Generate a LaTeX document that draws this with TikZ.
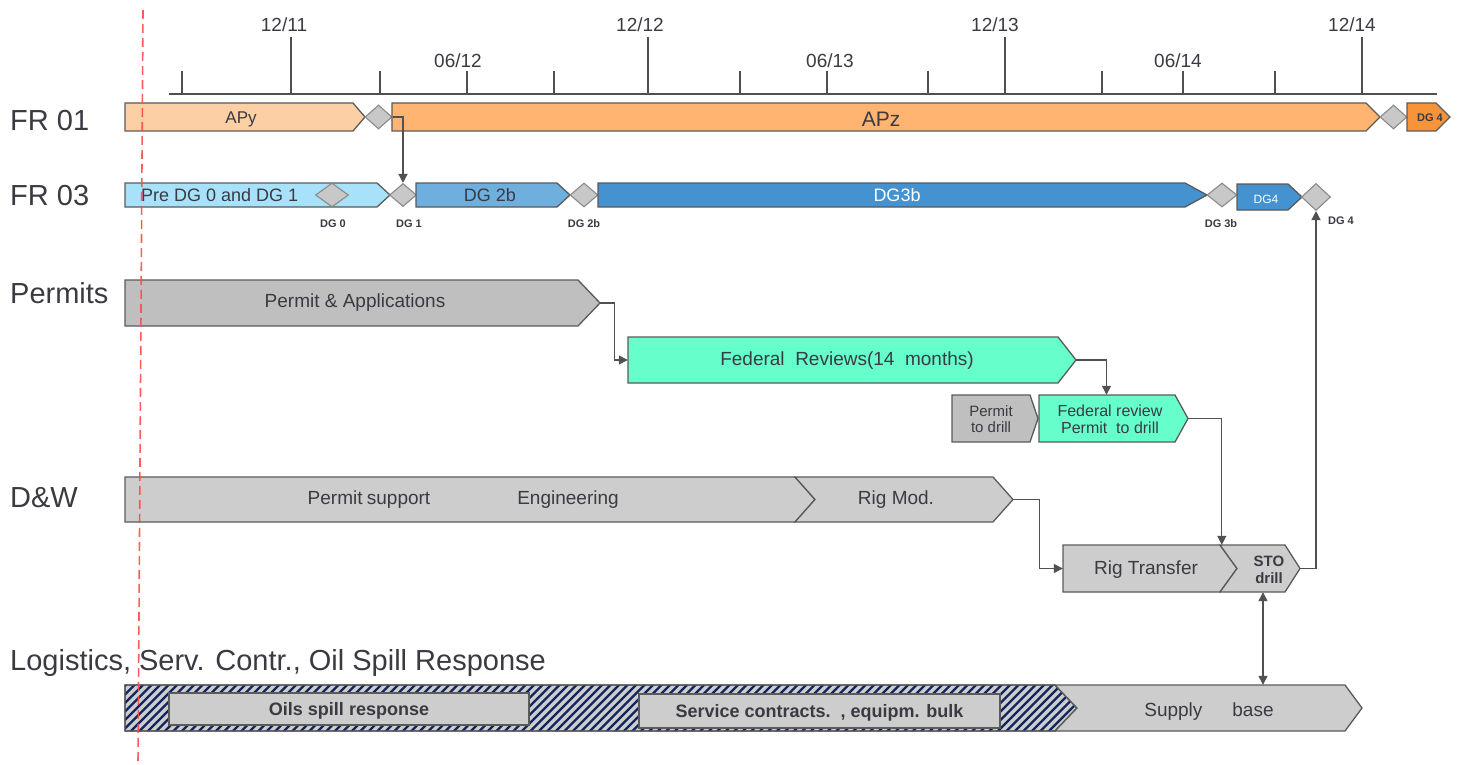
\documentclass[tikz,border=0pt]{standalone}
\usepackage{fontspec}
\setmainfont{Liberation Sans}
\usetikzlibrary{arrows.meta,shapes.geometric,fit}

\definecolor{ink}{HTML}{3A3A42}
\definecolor{edge}{HTML}{5A5A5A}
\definecolor{msfill}{HTML}{C8C8C8}
\definecolor{msedge}{HTML}{8A8A8A}
\definecolor{peach}{HTML}{FCCFA4}
\definecolor{apricot}{HTML}{FFB472}
\definecolor{orangedg}{HTML}{F7943A}
\definecolor{skyblue}{HTML}{A8E2FA}
\definecolor{midblue}{HTML}{6FAFDE}
\definecolor{deepblue}{HTML}{4592D0}
\definecolor{greyA}{HTML}{BFBFBF}
\definecolor{greyB}{HTML}{CDCDCD}
\definecolor{mint}{HTML}{66FFCC}
\definecolor{navyhatch}{HTML}{13255E}
\definecolor{todayred}{HTML}{FF4A4A}

% task bar: name, style, left x, body end x, tip x, top y, bottom y, notch depth
\newcommand\taskbox[8]{%
  \pgfmathsetmacro\tbmid{(#6+#7)/2}%
  \pgfmathsetmacro\tbnotch{#3+#8}%
  \path[box,#2] (#3,#6) -- (#4,#6) -- (#5,\tbmid) -- (#4,#7) -- (#3,#7) -- (\tbnotch,\tbmid) -- cycle;
  \node[fit={(#3,#6) (#5,#7)}, inner sep=0pt] (#1) {};
}

\begin{document}
\begin{tikzpicture}[x=1pt,y=-1pt,
  box/.style={draw=edge, line width=1.3pt, line join=miter},
  ms/.style={diamond, draw=msedge, fill=msfill, line width=1.1pt, inner sep=0pt},
  txt/.style={text=ink, inner sep=0pt, yshift=-2pt, font=\fontsize{19}{22}\selectfont},
  small/.style={text=ink, inner sep=0pt, yshift=-1pt, font=\fontsize{15}{17}\selectfont, align=center},
  tiny/.style={text=ink, inner sep=0pt, font=\bfseries\fontsize{11}{13}\selectfont},
  rowlab/.style={text=ink, inner sep=0pt, anchor=west, font=\fontsize{29}{33}\selectfont},
  datelab/.style={text=ink, inner sep=0pt, font=\fontsize{19}{22}\selectfont},
  tick/.style={draw=ink!90, line width=1.3pt},
  conn/.style={draw=edge!90!black, line width=1.3pt, -{Triangle[length=9pt,width=9pt]}},
  conn2/.style={draw=edge!90!black, line width=1.3pt, {Triangle[length=9pt,width=9pt]}-{Triangle[length=9pt,width=9pt]}},
  stripe/.style={draw=navyhatch, line width=2.4pt}
]
\useasboundingbox (0,0) rectangle (1461,765);

% ---- time axis ----
\draw[tick] (169,94) -- (1437,94);
\foreach \x in {291,648,1005,1362} \draw[tick] (\x,37) -- (\x,94);
\foreach \x in {182,380,467,554,740,827,928,1102,1183,1275} \draw[tick] (\x,71) -- (\x,94);
\node[datelab] (m1) at (284,25) {12/11};
\node[datelab] (m2) at (458,61) {06/12};
\node[datelab] (m3) at (640,25) {12/12};
\node[datelab] (m4) at (830,61) {06/13};
\node[datelab] (m5) at (995,25) {12/13};
\node[datelab] (m6) at (1178,61) {06/14};
\node[datelab] (m7) at (1352,25) {12/14};

% ---- row titles ----
\node[rowlab] (r1) at (10,121) {FR 01};
\node[rowlab] (r2) at (10,196) {FR 03};
\node[rowlab] (r3) at (10,293) {Permits};
\node[rowlab] (r4) at (10,498) {D\&W};
\node[rowlab] (r5) at (10,663) {Logistics, Serv. Contr., Oil Spill Response};

% ---- FR 01 ----
\taskbox{apy}{fill=peach}{125}{353}{365}{103}{131}{0}
\node[txt, font=\fontsize{17}{20}\selectfont] (apy-t) at (241,117) {APy};
\node[ms, minimum width=27pt, minimum height=24pt] (d1) at (378.5,117) {};
\taskbox{apz}{fill=apricot}{392}{1366}{1380}{103}{131}{0}
\node[txt, font=\fontsize{21}{24}\selectfont] (apz-t) at (881,117) {APz};
\node[ms, minimum width=27pt, minimum height=24pt] (d2) at (1393.5,117) {};
\taskbox{dg4o}{fill=orangedg}{1407}{1436}{1450}{103}{131}{0}
\node[tiny] (dg4o-t) at (1430,118) {DG 4};

% ---- FR 03 ----
\taskbox{pre}{fill=skyblue}{125}{377}{390}{183}{207}{0}
\node[txt, anchor=west, font=\fontsize{18}{21}\selectfont] (pre-t) at (141,193) {Pre DG 0 and DG 1};
\node[ms, minimum width=33pt, minimum height=24pt] (dg0) at (332,195) {};
\node[ms, minimum width=27pt, minimum height=23pt] (dg1) at (403,195) {};
\taskbox{dg2b}{fill=midblue}{416}{557}{570}{183}{207}{0}
\node[txt, font=\fontsize{18}{21}\selectfont] (dg2b-t) at (490,193) {DG 2b};
\node[ms, minimum width=28pt, minimum height=24pt] (dg2bd) at (584,195) {};
\taskbox{dg3b}{fill=deepblue}{598}{1185}{1207}{183}{207}{0}
\node[txt, text=white, font=\fontsize{18}{21}\selectfont] (dg3b-t) at (897,193) {DG3b};
\node[ms, minimum width=30pt, minimum height=24pt] (dg3bd) at (1222,195) {};
\taskbox{dg4b}{fill=deepblue}{1237}{1288}{1302}{184}{210}{0}
\node[txt, text=white, font=\fontsize{12}{14}\selectfont] (dg4b-t) at (1266,197) {DG4};
\node[ms, minimum width=29pt, minimum height=27pt] (dg4d) at (1316,197) {};

\node[tiny] (g0) at (333,224) {DG 0};
\node[tiny] (g1) at (409,224) {DG 1};
\node[tiny] (g2) at (584,224) {DG 2b};
\node[tiny] (g3) at (1221,224) {DG 3b};
\node[tiny] (g4) at (1341,221) {DG 4};

% ---- Permits ----
\taskbox{pa}{fill=greyA}{125}{578}{600}{280}{326}{0}
\node[txt] (pa-t) at (355,301) {Permit \& Applications};
\taskbox{fed}{fill=mint}{628}{1058}{1076}{337}{383}{0}
\node[txt] (fed-t) at (847,359) {Federal\ \ Reviews(14\ \ months)};
\taskbox{ptd}{fill=greyA}{952}{1030}{1038}{395}{442}{0}
\node[small] (ptd-t) at (991,418) {Permit\\[-1pt]to drill};
\taskbox{fr2}{fill=mint}{1039}{1175}{1188}{395}{442}{0}
\node[small, font=\fontsize{16}{18}\selectfont] (fr2-t) at (1110,418) {Federal review\\[-1pt]Permit\ \ to drill};

% ---- D&W ----
\taskbox{dw}{fill=greyB}{125}{795}{815}{477}{522}{0}
\node[txt] (dw-t1) at (369,498) {Permit\kern-1pt\ support};
\node[txt] (dw-t2) at (568,498) {Engineering};
\taskbox{rigmod}{fill=greyB}{795}{993}{1013}{477}{522}{20}
\node[txt] (rigmod-t) at (896,498) {Rig Mod.};
\taskbox{rt}{fill=greyB}{1063}{1220}{1237}{545}{592}{0}
\node[txt] (rt-t) at (1146,568) {Rig Transfer};
\taskbox{sto}{fill=greyB}{1220}{1285}{1300}{545}{592}{17}
\node[small, font=\bfseries\fontsize{15}{17}\selectfont] (sto-t) at (1269,569) {STO\\drill};

% ---- Logistics (hatched bar, stripes clipped to its outline) ----
\taskbox{lg}{fill=greyB}{125}{1055}{1077}{685}{731}{0}
\begin{scope}
  \clip (125,685) -- (1055,685) -- (1077,708) -- (1055,731) -- (125,731) -- cycle;
  \foreach \s in {0,...,125} \draw[stripe] ({78+8.5*\s},733) -- ++(50,-50);
\end{scope}
\draw[box] (125,685) -- (1055,685) -- (1077,708) -- (1055,731) -- (125,731) -- cycle;
\taskbox{sb}{fill=greyB}{1055}{1345}{1362}{685}{731}{22}
\node[txt] (sb-t) at (1209,710) {Supply\hspace{30pt}base};
\node[box, fill=greyB, minimum width=360pt, minimum height=32pt, inner sep=0pt] (osr) at (349,709) {};
\node[txt, font=\bfseries\fontsize{18}{21}\selectfont] (osr-t) at (349,709) {Oils spill response};
\node[box, fill=greyB, minimum width=361pt, minimum height=34pt, inner sep=0pt] (sc) at (819.5,711) {};
\node[txt, font=\bfseries\fontsize{18}{21}\selectfont] (sc-t) at (819.5,711) {Service contracts.\ \ , equipm. bulk};

% ---- dependencies ----
\draw[conn] (d1.east) -| (dg1.north);
\draw[conn] (pa.east) -- ++(14,0) |- (fed.west);
\draw[conn] (fed.east) -| ([xshift=-7pt]fr2.north);
\draw[conn] (fr2.east) -| ([xshift=2pt]sto.north west);
\draw[conn] (rigmod.east) -- ++(26,0) |- (rt.west);
\draw[conn] (sto.east) -| (dg4d.south);
\draw[conn2] ([xshift=3pt]sto.south) -- ([xshift=3pt]sto.south |- sb.north);

% ---- status date ----
\draw[todayred, line width=1.6pt, dash pattern=on 9pt off 5pt, opacity=0.9] (143,10) -- (138,765);
\end{tikzpicture}
\end{document}
